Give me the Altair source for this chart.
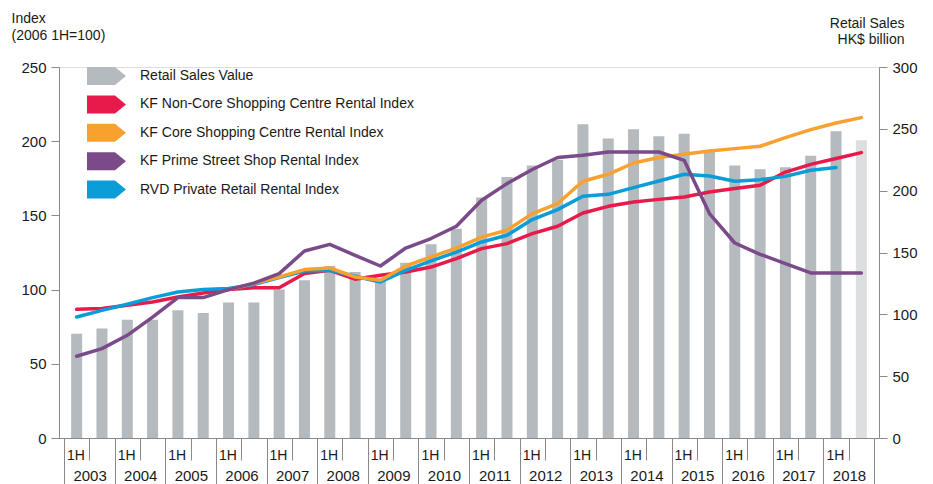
import altair as alt
import pandas as pd

# ---------------- data ----------------
years = list(range(2003, 2019))
halves = ["1H", "2H"]

retail_sales = [84.4, 88.5, 95.7, 95.7, 103.3, 101.0, 109.5, 109.5, 120.0, 127.5,
                139.0, 134.2, 127.5, 141.8, 156.6, 169.3, 194.4, 211.0, 220.3, 225.1,
                253.7, 242.1, 249.6, 244.0, 246.1, 231.3, 220.3, 217.3, 218.9, 228.3,
                248.0, 240.7]

non_core = [86.7, 87.2, 89.4, 91.6, 95.0, 97.7, 100.0, 101.3, 101.3, 110.8,
            113.0, 107.0, 109.6, 111.9, 115.2, 120.9, 127.6, 131.0, 137.7, 142.7,
            151.6, 156.1, 159.0, 160.8, 162.4, 165.8, 168.1, 170.3, 179.2, 184.4,
            188.3, 192.3]

core = [None, None, None, None, None, None, 100.0, 104.0, 108.5, 113.5,
        114.6, 108.5, 106.3, 115.9, 122.0, 128.0, 135.4, 140.0, 151.2, 158.0,
        173.0, 177.7, 185.3, 189.0, 191.2, 193.4, 195.0, 196.6, 202.4, 207.8,
        212.3, 215.9]

prime = [55.1, 60.2, 69.2, 81.5, 94.6, 94.6, 100.0, 104.4, 110.8, 126.0,
         130.5, 123.1, 115.9, 128.0, 134.4, 142.7, 160.2, 171.4, 180.9, 189.0,
         190.5, 192.7, 192.7, 192.7, 187.1, 151.2, 131.4, 123.8, 117.5, 111.2,
         111.2, 111.2]

rvd = [81.5, 86.0, 90.1, 94.6, 98.4, 100.0, 100.7, 103.4, 108.1, 112.5,
       113.0, 109.0, 105.1, 113.0, 119.3, 125.3, 132.1, 136.6, 147.2, 153.9,
       162.9, 164.2, 168.7, 173.2, 177.7, 176.6, 173.0, 174.1, 176.3, 180.4,
       182.2, None]

series_names = [
    "Retail Sales Value",
    "KF Non-Core Shopping Centre Rental Index",
    "KF Core Shopping Centre Rental Index",
    "KF Prime Street Shop Rental Index",
    "RVD Private Retail Rental Index",
]
series_colors = ["#b4babd", "#e8194b", "#f8a12f", "#7a4a89", "#0a9dd8"]
light_bar_color = "#dcdedf"

# ---------------- tables ----------------
periods = [f"{y} {h}" for y in years for h in halves]
n = len(periods)
pos = [i + 0.5 for i in range(n)]

bars_df = pd.DataFrame({"period": periods, "pos": pos, "sales": retail_sales,
                        "series": series_names[0]})
bars_actual = bars_df.iloc[:-1]
bars_light = bars_df.iloc[-1:]

FONT = "Liberation Sans"
TXT = "#1a1a1a"
AX = "#8a8a8a"

x_scale = alt.Scale(domain=[0, n], nice=False, zero=False)

year_axis = alt.Axis(
    orient="bottom", values=list(range(0, n + 1, 2)), tickSize=46, tickColor=AX,
    domainColor=AX, grid=False, title=None,
    labelExpr="datum.value < 32 ? '' + (2003 + datum.value / 2) : ''",
    labelAlign="center", labelOffset=25.6, labelBaseline="alphabetic",
    labelPadding=-4, labelFontSize=15, labelColor=TXT, labelFont=FONT,
    labelFlush=False, labelOverlap=False,
)
half_axis = alt.Axis(
    orient="bottom", values=list(range(0, n + 1)), tickSize=22, tickColor=AX,
    domainColor=AX, grid=False, title=None,
    labelExpr="(datum.value % 2 == 0 && datum.value < 32) ? '1H' : ''",
    labelAlign="left", labelOffset=2.5, labelBaseline="alphabetic",
    labelPadding=-1, labelFontSize=14, labelColor=TXT, labelFont=FONT,
    labelFlush=False, labelOverlap=False,
)

right_axis = alt.Axis(
    orient="right", values=[0, 50, 100, 150, 200, 250, 300], tickSize=8,
    tickColor=AX, domainColor=AX, grid=False, labelPadding=5, labelFontSize=15,
    labelColor=TXT, labelFont=FONT,
    title=["Retail Sales", "HK$ billion"], titleAngle=0, titleAlign="right",
    titleBaseline="alphabetic", titleX=25, titleY=-40, titleFontSize=14,
    titleFontWeight="normal", titleLineHeight=16, titleColor=TXT, titleFont=FONT,
)
left_axis = alt.Axis(
    orient="left", values=[0, 50, 100, 150, 200, 250], tickSize=8,
    tickColor=AX, domainColor=AX, grid=False, labelPadding=5, labelFontSize=15,
    labelColor=TXT, labelFont=FONT,
    title=["Index", "(2006 1H=100)"], titleAngle=0, titleAlign="left",
    titleBaseline="alphabetic", titleX=-48, titleY=-45, titleFontSize=14,
    titleFontWeight="normal", titleLineHeight=17.5, titleColor=TXT, titleFont=FONT,
)

chevron = "M-1,-1L2.11,-1L3.33,0L2.11,1L-1,1Z"

legend = alt.Legend(
    orient="none", legendX=28, legendY=0, title=None, symbolType=chevron,
    symbolSize=324, symbolStrokeWidth=0, symbolOpacity=1, labelFontSize=14,
    labelFont=FONT, labelColor=TXT, labelOffset=35, rowPadding=10.4,
    labelLimit=400,
)

y_right = alt.Y("sales:Q", scale=alt.Scale(domain=[0, 300], nice=False), axis=right_axis)

bar_main = alt.Chart(bars_actual).mark_bar(size=11).encode(
    x=alt.X("pos:Q", scale=x_scale, axis=year_axis),
    y=y_right,
    color=alt.Color("series:N", scale=alt.Scale(domain=series_names, range=series_colors),
                    legend=legend),
)
bar_light = alt.Chart(bars_light).mark_bar(size=11, color=light_bar_color).encode(
    x=alt.X("pos:Q", scale=x_scale, axis=year_axis),
    y=y_right,
)
bars = alt.layer(bar_main, bar_light)

line_layers = []
for name, values, color in [
    (series_names[1], non_core, series_colors[1]),
    (series_names[4], rvd, series_colors[4]),
    (series_names[2], core, series_colors[2]),
    (series_names[3], prime, series_colors[3]),
]:
    df = pd.DataFrame({"pos": pos, "value": values, "series": name}).dropna()
    line_layers.append(
        alt.Chart(df).mark_line(strokeWidth=3.5, strokeJoin="round", strokeCap="round",
                                color=color).encode(
            x=alt.X("pos:Q", scale=x_scale, axis=half_axis),
            y=alt.Y("value:Q", scale=alt.Scale(domain=[0, 250], nice=False), axis=left_axis),
        )
    )
lines = alt.layer(*line_layers)

chart = (
    alt.layer(bars, lines)
    .resolve_scale(y="independent")
    .resolve_axis(x="independent")
    .properties(
        width=820, height=371,
        padding={"left": 51, "top": 59, "right": 40, "bottom": 46},
        autosize=alt.AutoSizeParams(type="none"),
    )
    .configure_view(stroke=None)
    .configure(font=FONT)
)

chart.save("out.html", embed_options={"renderer": "svg", "actions": False})
